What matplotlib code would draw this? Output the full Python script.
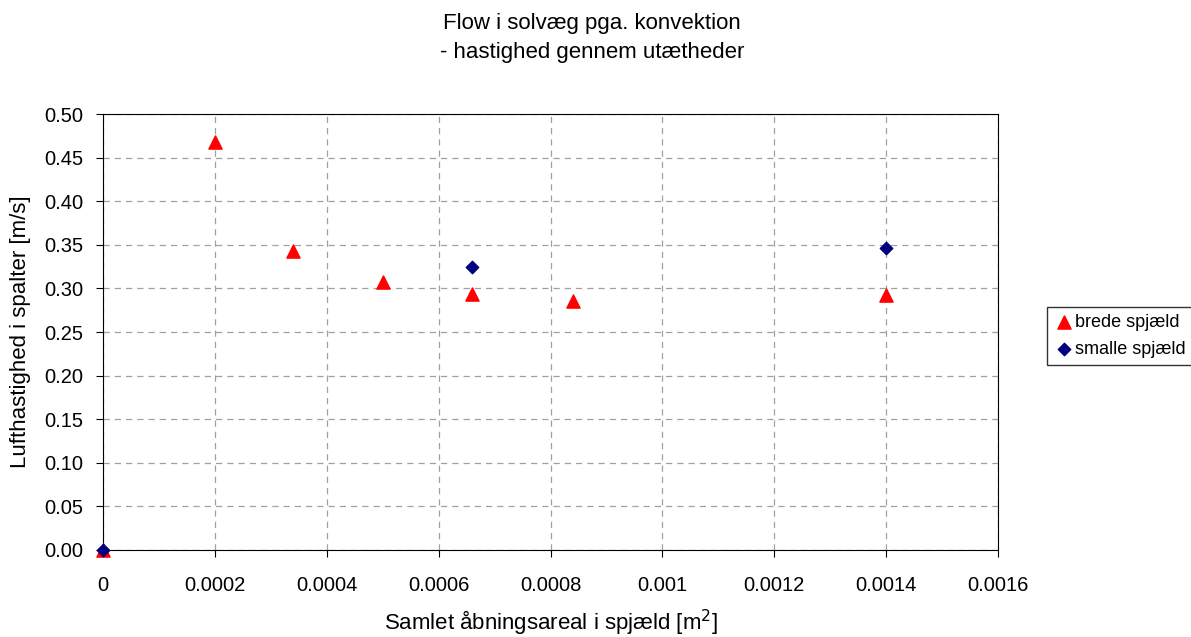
import matplotlib
matplotlib.use('Agg')
import matplotlib.pyplot as plt

plt.rcParams['font.family'] = ['Liberation Sans', 'DejaVu Sans']

# brede spjæld
brede_x = [0, 0.0002, 0.00034, 0.0005, 0.00066, 0.00084, 0.0014]
brede_y = [0, 0.468, 0.343, 0.307, 0.294, 0.285, 0.292]
# smalle spjæld
smalle_x = [0, 0.00066, 0.0014]
smalle_y = [0, 0.324, 0.346]

xticks = [0, 0.0002, 0.0004, 0.0006, 0.0008, 0.001, 0.0012, 0.0014, 0.0016]
xtick_labels = ['0', '0.0002', '0.0004', '0.0006', '0.0008', '0.001', '0.0012', '0.0014', '0.0016']
yticks = [i * 0.05 for i in range(11)]

fig = plt.figure(figsize=(11.91, 6.37), dpi=100)
ax = fig.add_axes([0.0865, 0.1366, 0.7515, 0.6844])

ax.scatter(brede_x, brede_y, marker='^', s=90, color='#ff0000', label='brede spjæld', zorder=3, clip_on=False)
ax.scatter(smalle_x, smalle_y, marker='D', s=40, color='#000080', label='smalle spjæld', zorder=4, clip_on=False)

ax.set_xlim(0, 0.0016)
ax.set_ylim(0, 0.5)
ax.set_xticks(xticks)
ax.set_xticklabels(xtick_labels)
ax.set_yticks(yticks)
ax.set_yticklabels([f'{v:.2f}' for v in yticks])
ax.tick_params(labelsize=14.5, direction='out', length=5)
ax.tick_params(axis='x', pad=14)
ax.tick_params(axis='y', pad=9)
ax.grid(True, color='#a0a0a0', linestyle=(0, (5, 4)), linewidth=0.9)
ax.set_axisbelow(True)
for s in ax.spines.values():
    s.set_color('black')

ax.set_xlabel('Samlet åbningsareal i spjæld [m$^2$]', fontsize=16, labelpad=9)
ax.set_ylabel('Lufthastighed i spalter [m/s]', fontsize=16, labelpad=10)
fig.text(0.497, 0.9396, 'Flow i solvæg pga. konvektion\n- hastighed gennem utætheder',
         ha='center', va='center', fontsize=16, linespacing=1.5)

leg = fig.legend(loc='center left', bbox_to_anchor=(0.879, 0.473), fontsize=13,
                 frameon=True, fancybox=False, edgecolor='black', handletextpad=0.05,
                 borderpad=0.4, labelspacing=0.55, handlelength=1.1, borderaxespad=0)
leg.get_frame().set_linewidth(1.0)

fig.savefig('out.png', dpi=100)
